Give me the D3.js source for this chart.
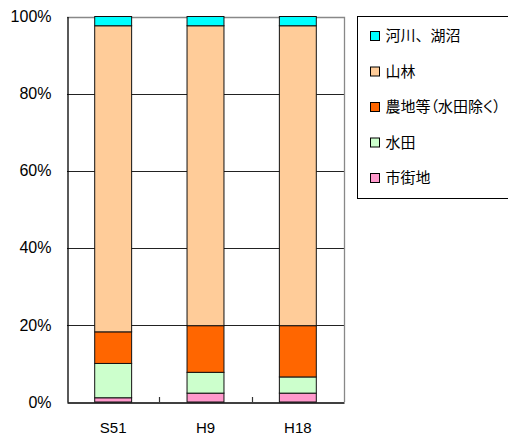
<!DOCTYPE html>
<html>
<head>
<meta charset="utf-8">
<script src="https://cdn.jsdelivr.net/npm/d3@7"></script>
<style>
  html, body { margin: 0; padding: 0; background: #fff; }
  svg { display: block; }
  .tick-label { font-family: "Liberation Sans", Arial, sans-serif; font-size: 16px; fill: #000; }
  .x-label { font-size: 15px; }
  .legend-label { font-family: "Noto Sans CJK JP", sans-serif; font-size: 15px; fill: #000; }
  .legend-label.narrow { font-feature-settings: "palt"; }
</style>
</head>
<body>
<svg id="chart" width="508" height="437"></svg>
<script>
// Land-use composition (%) by survey year
const categories = ["S51", "H9", "H18"];
const seriesNames = ["市街地", "水田", "農地等（水田除く）", "山林", "河川、湖沼"];
const urban   = [1.1, 2.3, 2.3];
const paddy   = [8.9, 5.4, 4.2];
const farm    = [8.2, 12.1, 13.3];
const forest  = [79.4, 77.8, 77.8];
const river   = [2.4, 2.4, 2.4];
const yTicks  = [0, 20, 40, 60, 80, 100];
const colors  = ["#FF99CC", "#CCFFCC", "#FF6600", "#FFCC99", "#00FFFF"];

const seriesValues = [urban, paddy, farm, forest, river];
const rows = categories.map((c, i) => {
  const r = { cat: c };
  seriesNames.forEach((s, j) => { r[s] = seriesValues[j][i]; });
  return r;
});

const svg = d3.select("#chart");
const plot = { left: 67, right: 344, top: 16.5, bottom: 402 };

const x = d3.scaleBand()
  .domain(categories)
  .range([plot.left, plot.right])
  .paddingInner(0.6)
  .paddingOuter(0.3);

const y = d3.scaleLinear()
  .domain([0, 100])
  .range([plot.bottom, plot.top]);

// Horizontal gridlines
svg.append("g")
  .selectAll("line")
  .data(yTicks.filter(t => t > 0 && t < 100))
  .join("line")
  .attr("x1", plot.left).attr("x2", plot.right)
  .attr("y1", d => Math.round(y(d)) + 0.5).attr("y2", d => Math.round(y(d)) + 0.5)
  .attr("stroke", "#222").attr("stroke-width", 1);

// Top and right frame
svg.append("path")
  .attr("d", `M${plot.left},${Math.round(y(100)) + 0.5}H${plot.right + 0.5}V${plot.bottom}`)
  .attr("fill", "none").attr("stroke", "#888").attr("stroke-width", 1.3);

// Stacked bars
const stacked = d3.stack().keys(seriesNames)(rows);
svg.append("g")
  .selectAll("g")
  .data(stacked)
  .join("g")
  .attr("fill", (d, i) => colors[i])
  .selectAll("rect")
  .data(d => d)
  .join("rect")
  .attr("x", d => x(d.data.cat))
  .attr("width", x.bandwidth())
  .attr("y", d => y(d[1]))
  .attr("height", d => y(d[0]) - y(d[1]))
  .attr("stroke", "#111")
  .attr("stroke-width", 1);

// Y axis
const yAxis = d3.axisLeft(y)
  .tickValues(yTicks)
  .tickFormat(d => d + "%")
  .tickSize(0)
  .tickPadding(16);
const yg = svg.append("g")
  .attr("transform", `translate(${plot.left + 0.5},0)`)
  .call(yAxis);
yg.select(".domain").attr("stroke", "#000").attr("stroke-width", 1.3);
yg.selectAll("text").attr("class", "tick-label").attr("font-family", null).attr("font-size", null);

// X axis with category-boundary ticks
const xAxis = d3.axisBottom(x).tickSize(0).tickPadding(20);
const xg = svg.append("g")
  .attr("transform", `translate(0,${plot.bottom + 0.5})`)
  .call(xAxis);
xg.select(".domain").attr("stroke", "#000").attr("stroke-width", 1.3);
xg.selectAll("text").attr("class", "tick-label x-label").attr("font-family", null).attr("font-size", null);

const boundaries = categories.slice(1).map(c => x(c) - x.step() * x.paddingInner() / 2);
svg.append("g")
  .selectAll("line")
  .data(boundaries)
  .join("line")
  .attr("x1", d => Math.round(d) + 0.5).attr("x2", d => Math.round(d) + 0.5)
  .attr("y1", plot.bottom).attr("y2", plot.bottom - 5)
  .attr("stroke", "#333").attr("stroke-width", 1.2);

// Legend (top entry is the top of the stack)
const legend = svg.append("g");
legend.append("rect")
  .attr("x", 357.5).attr("y", 16.5)
  .attr("width", 160).attr("height", 182)
  .attr("fill", "#fff").attr("stroke", "#000").attr("stroke-width", 1);

const legendOrder = seriesNames.map((s, i) => ({ name: s, color: colors[i] })).reverse();
const items = legend.selectAll("g.item")
  .data(legendOrder)
  .join("g")
  .attr("class", "item")
  .attr("transform", (d, i) => `translate(370,${36 + i * 35.5})`);
items.append("rect")
  .attr("x", 0.5).attr("y", -4.5)
  .attr("width", 9).attr("height", 9)
  .attr("fill", d => d.color)
  .attr("stroke", "#000").attr("stroke-width", 1);
items.append("text")
  .attr("class", d => "legend-label" + (d.name.length > 6 ? " narrow" : ""))
  .attr("x", 15.5)
  .attr("dy", "0.36em")
  .text(d => d.name);
</script>
</body>
</html>
